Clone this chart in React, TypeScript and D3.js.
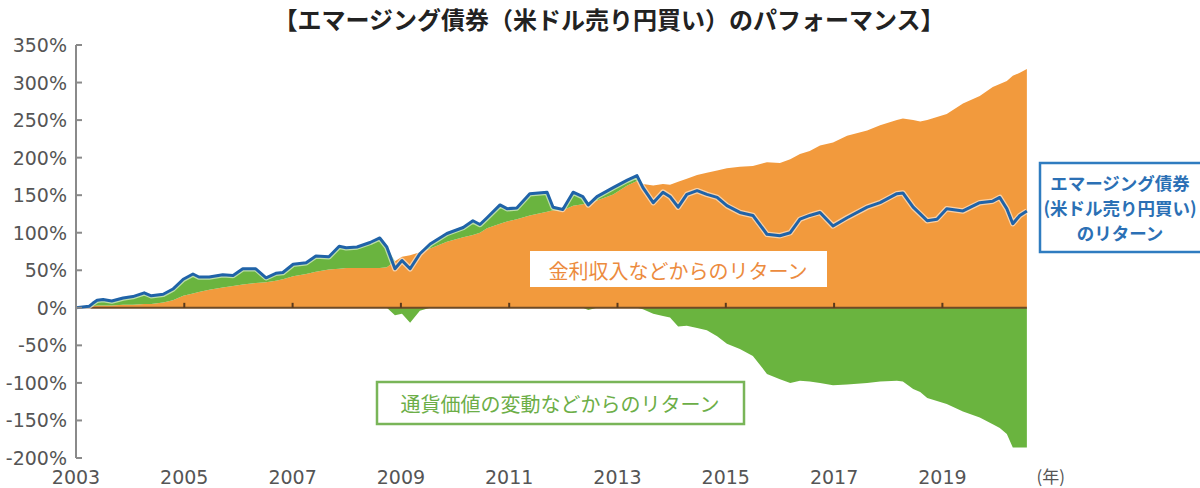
import React from "react";
import * as d3 from "d3";

// decimal years of each reading
const years = [
  2003.0, 2003.24, 2003.31, 2003.39, 2003.5, 2003.66, 2003.87, 2004.05, 2004.26, 2004.39,
  2004.61, 2004.79, 2004.98, 2005.16, 2005.27, 2005.46, 2005.71, 2005.9, 2006.08, 2006.32,
  2006.51, 2006.69, 2006.82, 2007.01, 2007.25, 2007.43, 2007.67, 2007.86, 2007.99, 2008.19,
  2008.43, 2008.61, 2008.74, 2008.89, 2009.02, 2009.17, 2009.35, 2009.54, 2009.85, 2010.15,
  2010.33, 2010.46, 2010.59, 2010.83, 2010.96, 2011.14, 2011.38, 2011.7, 2011.81, 2011.99,
  2012.18, 2012.36, 2012.46, 2012.62, 2012.92, 2013.18, 2013.36, 2013.47, 2013.66, 2013.84,
  2013.97, 2014.12, 2014.28, 2014.47, 2014.65, 2014.84, 2015.02, 2015.26, 2015.5, 2015.76,
  2016.0, 2016.19, 2016.37, 2016.55, 2016.74, 2016.98, 2017.24, 2017.61, 2017.85, 2018.16,
  2018.27, 2018.46, 2018.59, 2018.72, 2018.9, 2019.08, 2019.38, 2019.69, 2019.93, 2020.06,
  2020.19, 2020.3, 2020.43, 2020.56,
];

// エマージング債券（米ドル売り円買い）のリターン (%)
const totalReturn = [
  0, 2, 6, 10, 11, 9, 13, 15, 20, 16,
  18, 25, 38, 45, 41, 41, 44, 43, 52, 52,
  40, 46, 47, 58, 60, 69, 68, 82, 80, 81,
  87, 93, 81, 52, 63, 52, 72, 85, 99, 107,
  116, 111, 120, 137, 132, 133, 152, 154, 134, 131,
  154, 148, 137, 148, 160, 170, 176, 160, 140, 154,
  148, 134, 151, 156, 151, 147, 136, 127, 123, 98,
  96, 100, 118, 123, 127, 109, 120, 134, 140, 152,
  153, 134, 125, 116, 118, 132, 129, 140, 142, 147,
  132, 112, 123, 129,
];

// 金利収入などからのリターン (%)
const incomeReturn = [
  0, 0, 2, 3, 3, 3, 4, 4, 5, 5,
  7, 10, 16, 19, 21, 24, 27, 29, 31, 33,
  34, 36, 38, 42, 45, 48, 51, 52, 53, 53,
  53, 53, 54, 62, 68, 70, 74, 79, 88, 94,
  97, 100, 106, 112, 115, 118, 123, 128, 130, 130,
  136, 138, 140, 143, 151, 163, 169, 165, 163, 165,
  164, 168, 172, 177, 180, 183, 186, 188, 189, 194,
  193, 198, 205, 209, 216, 220, 229, 236, 243, 250,
  252, 250, 248, 250, 254, 258, 272, 282, 294, 298,
  302, 309, 313, 318,
];

// 通貨価値の変動などからのリターン (%)
const fxReturn = [
  0, 2, 4, 7, 8, 6, 9, 11, 15, 11,
  11, 15, 22, 26, 20, 17, 17, 14, 21, 19,
  6, 10, 9, 16, 15, 21, 17, 30, 27, 28,
  34, 40, 27, -10, -8, -20, -4, 6, 11, 13,
  19, 11, 14, 25, 17, 15, 29, 26, 4, 1,
  18, 10, -3, 5, 9, 7, 7, -2, -8, -11,
  -13, -25, -24, -27, -30, -38, -48, -55, -64, -88,
  -95, -100, -97, -98, -100, -103, -102, -100, -98, -97,
  -98, -108, -112, -120, -124, -128, -138, -146, -155, -160,
  -168, -186, -186, -186,
];

const yTicks = [350, 300, 250, 200, 150, 100, 50, 0, -50, -100, -150, -200];
const xTickYears = [2003, 2005, 2007, 2009, 2011, 2013, 2015, 2017, 2019];
const yearUnitLabel = "(年)";
const titleText = "【エマージング債券（米ドル売り円買い）のパフォーマンス】";
const incomeLabel = "金利収入などからのリターン";
const fxLabel = "通貨価値の変動などからのリターン";
const totalLabelLines = ["エマージング債券", "(米ドル売り円買い)", "のリターン"];

type Row = { year: number; total: number; income: number; fx: number };

export default function App() {
  const W = 1200;
  const H = 488;
  const data: Row[] = years.map((yr, i) => ({
    year: yr,
    total: totalReturn[i],
    income: incomeReturn[i],
    fx: fxReturn[i],
  }));

  const x = d3.scaleLinear().domain([2003, 2021]).range([76, 1050.7]);
  const y = d3.scaleLinear().domain([-200, 350]).range([458, 45]);

  const orangeArea = d3
    .area<Row>()
    .x((d) => x(d.year))
    .y0(() => y(0))
    .y1((d) => y(d.income));
  const greenPos = d3
    .area<Row>()
    .x((d) => x(d.year))
    .y0((d) => y(d.income))
    .y1((d) => y(Math.max(d.income, d.total)));
  const greenNeg = d3
    .area<Row>()
    .x((d) => x(d.year))
    .y0(() => y(0))
    .y1((d) => y(Math.min(0, d.fx)));
  const totalLine = d3
    .line<Row>()
    .x((d) => x(d.year))
    .y((d) => y(d.total));

  const x0 = x(2003);
  const xEnd = x(years[years.length - 1]);
  const axisColor = "#8a8a8a";
  const labelColor = "#555555";
  const numFont = "'DejaVu Sans', sans-serif";
  const jpFont = "'Noto Sans CJK JP', sans-serif";

  return (
    <svg
      width={W}
      height={H}
      viewBox={`0 0 ${W} ${H}`}
      style={{ position: "absolute", left: 0, top: 0, background: "#ffffff" }}
    >
      <text
        x={609}
        y={18}
        textAnchor="middle"
        dominantBaseline="central"
        fontFamily={jpFont}
        fontWeight={700}
        fontSize={24}
        fill="#222222"
      >
        {titleText}
      </text>

      <path d={orangeArea(data) || ""} fill="#f29a3d" />
      <path d={greenPos(data) || ""} fill="#6ab43f" />
      <path d={greenNeg(data) || ""} fill="#6ab43f" />

      {/* zero line */}
      <line x1={x0} x2={xEnd} y1={y(0)} y2={y(0)} stroke="#6e4a26" strokeWidth={2} />
      {xTickYears
        .filter((t) => t > 2003)
        .map((t) => (
          <line key={t} x1={x(t)} x2={x(t)} y1={y(0)} y2={y(0) - 5} stroke="#5a3a1c" strokeWidth={2} />
        ))}

      {/* total return line */}
      <path d={totalLine(data) || ""} fill="none" stroke="#ffffff" strokeOpacity={0.55} strokeWidth={5.5} strokeLinejoin="round" />
      <path d={totalLine(data) || ""} fill="none" stroke="#2063a8" strokeWidth={3} strokeLinejoin="round" />

      {/* y axis */}
      <line x1={x0} x2={x0} y1={y(350)} y2={y(-200)} stroke={axisColor} strokeWidth={2} />
      {yTicks.map((t) => (
        <g key={t}>
          <line x1={x0} x2={x0 + 6} y1={y(t)} y2={y(t)} stroke={axisColor} strokeWidth={2} />
          <text
            x={67}
            y={y(t) + 7}
            textAnchor="end"
            fontFamily={numFont}
            fontSize={19}
            fill={labelColor}
          >
            {`${t}%`}
          </text>
        </g>
      ))}

      {/* x labels */}
      {xTickYears.map((t) => (
        <text key={t} x={x(t)} y={484} textAnchor="middle" fontFamily={numFont} fontSize={19} fill={labelColor}>
          {t}
        </text>
      ))}
      <text x={x(2021)} y={483} textAnchor="middle" fontFamily={jpFont} fontSize={17} fill={labelColor}>
        {yearUnitLabel}
      </text>

      {/* income label */}
      <rect x={530} y={251} width={297} height={36} fill="#ffffff" />
      <text x={678} y={270} textAnchor="middle" dominantBaseline="central" fontFamily={jpFont} fontSize={20} fill="#ec8b3e">
        {incomeLabel}
      </text>

      {/* fx label */}
      <rect x={377} y={382} width={367} height={42} fill="#ffffff" stroke="#79b558" strokeWidth={2.5} />
      <text x={560} y={403} textAnchor="middle" dominantBaseline="central" fontFamily={jpFont} fontSize={20} fill="#6cae47">
        {fxLabel}
      </text>

      {/* total label */}
      <rect x={1040} y={163} width={170} height={89} fill="#ffffff" stroke="#2f7cc0" strokeWidth={2.5} />
      {totalLabelLines.map((s, i) => (
        <text
          key={i}
          x={1120}
          y={182 + i * 25}
          textAnchor="middle"
          dominantBaseline="central"
          fontFamily={jpFont}
          fontWeight={600}
          fontSize={17.5}
          fill="#2b70b5"
        >
          {s}
        </text>
      ))}
    </svg>
  );
}
